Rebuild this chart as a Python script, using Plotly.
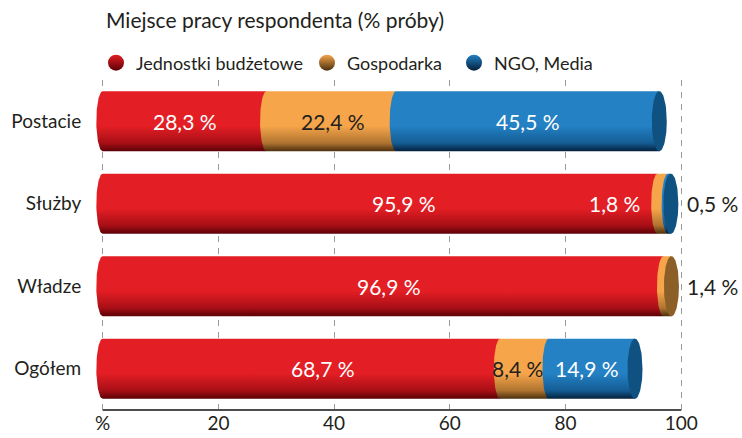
import numpy as np
import plotly.graph_objects as go

# ---------------- data ----------------
categories = ["Postacie", "Służby", "Władze", "Ogółem"]
series_names = ["Jednostki budżetowe", "Gospodarka", "NGO, Media"]
jednostki = [28.3, 95.9, 96.9, 68.7]
gospodarka = [22.4, 1.8, 1.4, 8.4]
ngo_media = [45.5, 0.5, 0.0, 14.9]
x_tick_values = [0, 20, 40, 60, 80, 100]
x_tick_labels = ["%", "20", "40", "60", "80", "100"]
title_text = "Miejsce pracy respondenta (% próby)"

# ---------------- style ----------------
FONT = "Lato"
TXT = "#231f20"
base_colors = ["#e31e24", "#f6a54a", "#2381c4"]
dark_colors = ["#5a0006", "#4a2f0e", "#04203a"]
mid_colors = ["#a80f16", "#b07430", "#145d94"]
cap_colors = ["#8a0a10", "#8d5f28", "#0f5282"]
label_colors = ["white", TXT, "white"]

# label placement per (row, series): (mode, xshift)
label_style = {
    (0, 0): ("center", 0), (0, 1): ("center", 2), (0, 2): ("center", 0),
    (1, 0): ("center", 24), (1, 1): ("left", -16), (1, 2): ("outside", 4),
    (2, 0): ("center", 6), (2, 1): ("outside", 4),
    (3, 0): ("center", 22), (3, 1): ("center", -7), (3, 2): ("center", -5),
}

H = 0.365      # half bar height (y units)
A = 1.1        # left bulge semi-axis (x units)
A_CAP = 1.3    # end cap semi-axis (x units)

values = [jednostki, gospodarka, ngo_media]
n = len(categories)
ypos = [n - 1 - i for i in range(n)]


def fmt(v):
    return f"{v:.1f}".replace(".", ",") + " %"


def scale_for(k):
    return [[0, dark_colors[k]], [0.14, mid_colors[k]], [0.42, base_colors[k]],
            [1, base_colors[k]]]


fig = go.Figure()
annotations = []

for i in range(n):
    yc = ypos[i]
    start = 0.0
    last_k = None
    for k in range(len(series_names)):
        v = values[k][i]
        if v <= 0:
            continue
        x0, x1 = start, start + v
        t = np.linspace(np.pi / 2, 3 * np.pi / 2, 40)
        xs = [x1, x1] + list(x0 + A * np.cos(t)) + [x1]
        ys = [yc - H, yc + H] + list(yc + H * np.sin(t)) + [yc - H]
        fig.add_trace(go.Scatter(
            x=xs, y=ys, mode="lines", fill="toself",
            line=dict(width=0, color=base_colors[k]),
            fillgradient=dict(type="vertical", colorscale=scale_for(k)),
            hoverinfo="skip", showlegend=False))
        mode, shift = label_style.get((i, k), ("center", 0))
        if mode == "center":
            annotations.append(dict(x=(x0 + x1) / 2, y=yc, text=fmt(v), showarrow=False,
                                    xanchor="center", xshift=shift,
                                    font=dict(size=21, color=label_colors[k], family=FONT)))
        elif mode == "left":
            annotations.append(dict(x=x0, y=yc, text=fmt(v), showarrow=False,
                                    xanchor="right", xshift=shift,
                                    font=dict(size=21, color="white", family=FONT)))
        else:
            annotations.append(dict(x=x_tick_values[-1], y=yc, text=fmt(v), showarrow=False,
                                    xanchor="left", xshift=shift,
                                    font=dict(size=21, color=TXT, family=FONT)))
        start = x1
        last_k = k
    # end cap
    t = np.linspace(0, 2 * np.pi, 80)
    fig.add_trace(go.Scatter(
        x=list(start + A_CAP * np.cos(t)), y=list(yc + H * np.sin(t)),
        mode="lines", fill="toself", line=dict(width=0, color=cap_colors[last_k]),
        fillcolor=cap_colors[last_k], hoverinfo="skip", showlegend=False))

# legend entries (one legend each for precise placement)
legend_x = [96, 307, 454]
for k, name in enumerate(series_names):
    lg = "legend" if k == 0 else f"legend{k + 1}"
    fig.add_trace(go.Scatter(
        x=[None], y=[None], mode="markers", name=name, legend=lg,
        marker=dict(size=16, color=base_colors[k], symbol="circle",
                    gradient=dict(type="vertical", color=dark_colors[k]))))

legend_common = dict(orientation="h", xref="container", yref="container",
                     y=1 - 63 / 438, yanchor="middle", xanchor="left",
                     font=dict(size=18, color=TXT, family=FONT),
                     bgcolor="rgba(0,0,0,0)", borderwidth=0)

fig.add_shape(type="line", xref="x", yref="paper", x0=x_tick_values[0],
              x1=x_tick_values[-1], y0=0, y1=0, line=dict(color="#4d4d4d", width=2))

fig.update_layout(
    width=742, height=438,
    margin=dict(l=94, r=59, t=80, b=28, autoexpand=False),
    paper_bgcolor="white", plot_bgcolor="white",
    font=dict(family=FONT, color=TXT),
    title=dict(text=title_text, xref="container", yref="container",
               x=106 / 742, xanchor="left", y=1 - 21 / 438, yanchor="middle",
               font=dict(size=21, color=TXT, family=FONT)),
    legend=dict(x=legend_x[0] / 742, **legend_common),
    legend2=dict(x=legend_x[1] / 742, **legend_common),
    legend3=dict(x=legend_x[2] / 742, **legend_common),
    annotations=annotations,
    xaxis=dict(range=[-1.5, 100.3], tickvals=x_tick_values, ticktext=x_tick_labels,
               showgrid=True, gridcolor="#9a9a9a", griddash="6px,6px", gridwidth=1.3,
               zeroline=False, showline=False, ticks="",
               tickfont=dict(size=19, color=TXT, family=FONT),
               fixedrange=True, automargin=False),
    yaxis=dict(range=[-0.5, 3.5], tickvals=ypos, ticktext=categories,
               showgrid=False, zeroline=False, showline=False, ticks="outside",
               ticklen=8, tickcolor="rgba(0,0,0,0)",
               tickfont=dict(size=19, color=TXT, family=FONT), fixedrange=True,
               automargin=False),
)

fig.write_html("out.html", config={"displayModeBar": False},
               post_script="document.body.style.margin='0px';document.body.style.overflow='hidden';")
